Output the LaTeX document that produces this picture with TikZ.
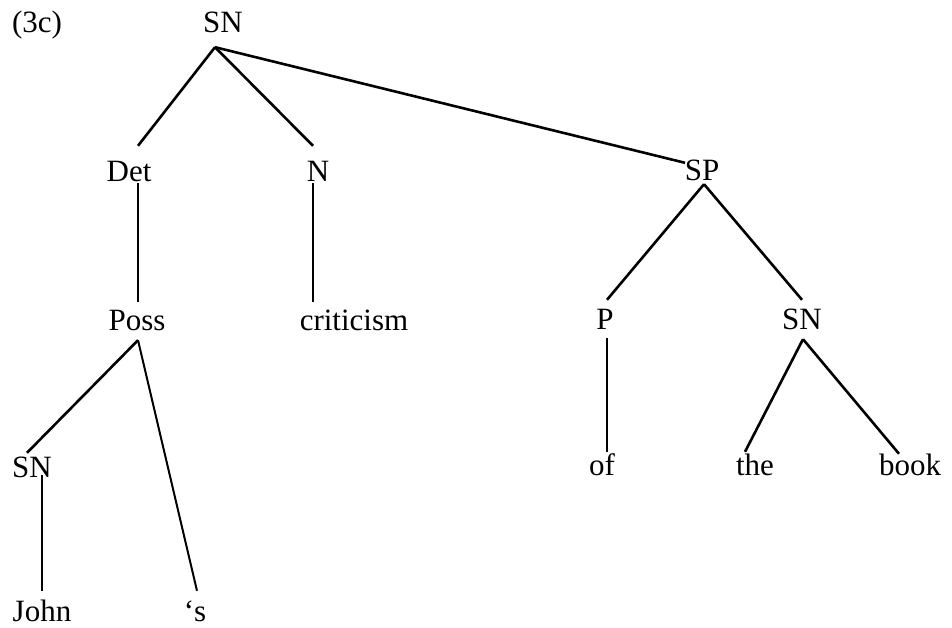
\documentclass[tikz,border=0pt]{standalone}
\usepackage{fontspec}
\setmainfont{Liberation Serif}
\usetikzlibrary{calc}
\begin{document}
\begin{tikzpicture}[x=1pt,y=-1pt,
  lbl/.style={anchor=base,inner sep=0pt,text height=21pt,text depth=0pt,
              font=\fontsize{31}{36}\selectfont},
  branch/.style={line width=2.6pt},
  stem/.style={line width=2pt}]
\useasboundingbox (0,0) rectangle (952,628);

% labels
\node[lbl] (tag)  at (37,33)   {(3c)};
\node[lbl] (sn)   at (223,33)  {SN};
\node[lbl] (det)  at (129,182) {Det};
\node[lbl] (n)    at (318,182) {N};
\node[lbl] (sp)   at (702,181) {SP};
\node[lbl] (poss) at (137,330) {Poss};
\node[lbl] (crit) at (354,330) {criticism};
\node[lbl] (p)    at (605,329) {P};
\node[lbl] (snr)  at (802,329) {SN};
\node[lbl] (snl)  at (32,477)  {SN};
\node[lbl] (of)   at (602,475) {of};
\node[lbl] (the)  at (755,475) {the};
\node[lbl] (book) at (910,475) {book};
\node[lbl] (john) at (42,621)  {John};
\node[lbl] (s)    at (195,621) {‘s};

% branches
\draw[branch] ($(sn.south)+(-8,14)$) -- ($(det.north)+(9,-15)$);
\draw[branch] ($(sn.south)+(-8,14)$) -- ($(n.north)+(-5,-15)$);
\draw[branch] ($(sn.south)+(-8,14)$) -- ($(sp.north)+(-17,3)$);
\draw[stem]   ($(det.south)+(9,1)$)  -- ($(poss.north)+(1,-7)$);
\draw[stem]   ($(n.south)+(-5,1)$)   -- ($(crit.north)+(-41,-7)$);
\draw[branch] ($(sp.south)+(2,3)$)   -- ($(p.north)+(2,-8)$);
\draw[branch] ($(sp.south)+(2,3)$)   -- ($(snr.north)+(0,-8)$);
\draw[branch] ($(poss.south)+(1,10)$) -- ($(snl.north)+(-5,-3)$);
\draw[stem]   ($(poss.south)+(1,10)$) -- ($(s.north)+(2,-9)$);
\draw[stem]   ($(snl.south)+(10,-2)$) -- ($(john.north)+(0,-9)$);
\draw[stem]   ($(p.south)+(2,9)$)    -- ($(of.north)+(5,-2)$);
\draw[branch] ($(snr.south)+(1,10)$) -- ($(the.north)+(-10,-2)$);
\draw[branch] ($(snr.south)+(1,10)$) -- ($(book.north)+(-11,0)$);
\end{tikzpicture}
\end{document}
